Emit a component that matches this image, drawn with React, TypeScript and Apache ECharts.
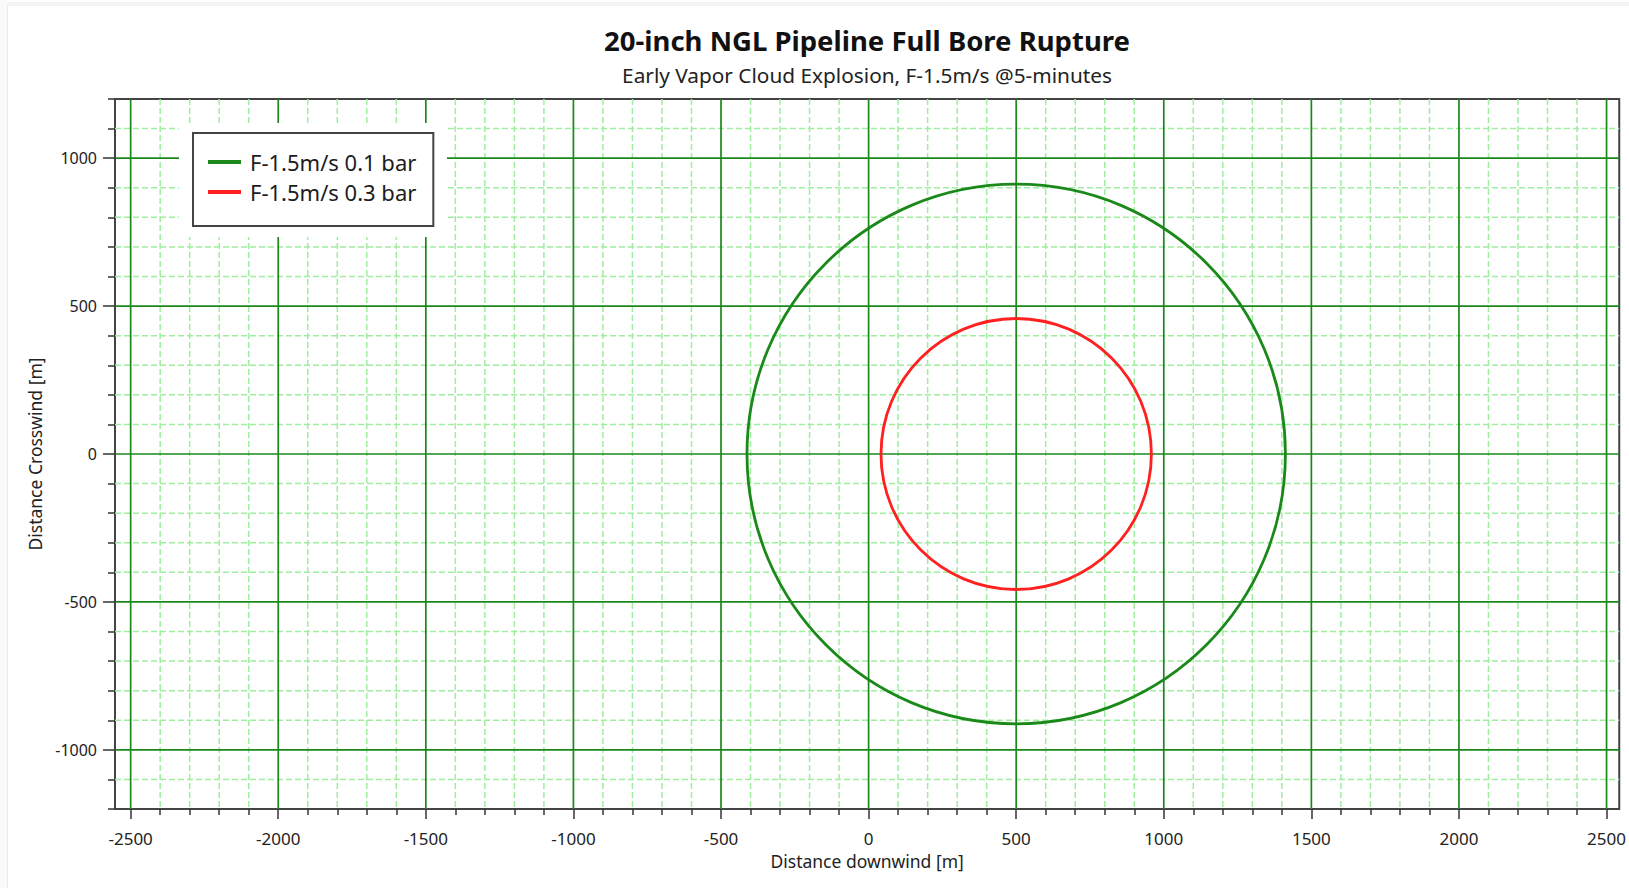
import React, { useEffect, useRef } from "react";
import * as echarts from "echarts";

// ---- axis extents & ticks ----
const xRange = [-2553, 2543];
const yRange = [-1200, 1200];
const majorX = [-2500, -2000, -1500, -1000, -500, 0, 500, 1000, 1500, 2000, 2500];
const minorX = [
  -2400, -2300, -2200, -2100, -1900, -1800, -1700, -1600, -1400, -1300, -1200, -1100,
  -900, -800, -700, -600, -400, -300, -200, -100, 100, 200, 300, 400,
  600, 700, 800, 900, 1100, 1200, 1300, 1400, 1600, 1700, 1800, 1900,
  2100, 2200, 2300, 2400,
];
const majorY = [-1000, -500, 0, 500, 1000];
const minorY = [-1100, -900, -800, -700, -600, -400, -300, -200, -100, 100, 200, 300, 400, 600, 700, 800, 900, 1100];
const edgeY = [-1200, 1200];

// ---- contour series ----
const seriesNames = ["F-1.5m/s 0.1 bar", "F-1.5m/s 0.3 bar"];
const centerX = [500, 500];
const centerY = [0, 0];
const radius = [912, 458];

// ---- texts ----
const titleText = "20-inch NGL Pipeline Full Bore Rupture";
const subtitleText = "Early Vapor Cloud Explosion, F-1.5m/s @5-minutes";
const xName = "Distance downwind [m]";
const yName = "Distance Crosswind [m]";

// ---- styles ----
const FONT = "'Noto Sans', 'Open Sans', sans-serif";
const seriesColors = ["#1a891a", "#ff2020"];
const MAJOR_GRID = "#1a881a";
const MINOR_GRID = "#9fee9f";
const TICK = "#333";
const LABEL = "#222";

export default function App() {
  const ref = useRef<HTMLDivElement>(null);

  useEffect(() => {
    if (!ref.current) return;
    const chart = echarts.init(ref.current, undefined, { renderer: "svg" });

    const vLine = (color: string, width: number, dash: number[] | null) => (params: any, api: any) => {
      const cs = params.coordSys;
      const x = api.coord([api.value(0), 0])[0];
      return {
        type: "line",
        shape: { x1: x, y1: cs.y, x2: x, y2: cs.y + cs.height },
        style: { stroke: color, lineWidth: width, lineDash: dash || undefined, fill: null },
      };
    };
    const hLine = (color: string, width: number, dash: number[] | null) => (params: any, api: any) => {
      const cs = params.coordSys;
      const y = api.coord([0, api.value(1)])[1];
      return {
        type: "line",
        shape: { x1: cs.x, y1: y, x2: cs.x + cs.width, y2: y },
        style: { stroke: color, lineWidth: width, lineDash: dash || undefined, fill: null },
      };
    };

    const circleItem = (idx: number) => (params: any, api: any) => {
      const c = api.coord([api.value(0), api.value(1)]);
      const s = api.size([api.value(2), api.value(2)]);
      return {
        type: "ellipse",
        shape: { cx: c[0], cy: c[1], rx: s[0], ry: s[1] },
        style: { fill: null, stroke: seriesColors[idx], lineWidth: 2.8 },
      };
    };

    const plain = (v: number) => String(v);

    const baseX = {
      type: "value",
      min: xRange[0],
      max: xRange[1],
      position: "bottom",
      axisLine: { show: false, onZero: false },
      splitLine: { show: false },
    };
    const baseY = {
      type: "value",
      min: yRange[0],
      max: yRange[1],
      position: "left",
      axisLine: { show: false, onZero: false },
      splitLine: { show: false },
    };

    const option: any = {
      animation: false,
      color: seriesColors,
      graphic: [
        { type: "rect", shape: { x: 7, y: 2, width: 1622, height: 4 }, style: { fill: "#f3f3f3" }, z: 0, silent: true },
        { type: "rect", shape: { x: 0, y: 0, width: 7, height: 888 }, style: { fill: "#fafafa" }, z: 0, silent: true },
        { type: "line", shape: { x1: 7.5, y1: 6, x2: 7.5, y2: 888 }, style: { stroke: "#ececec", lineWidth: 1 }, z: 0, silent: true },
        {
          type: "text",
          x: 867,
          y: 40,
          style: { text: titleText, font: `bold 27.5px ${FONT}`, fill: "#111", textAlign: "center", textVerticalAlign: "middle" },
          z: 10,
        },
        {
          type: "text",
          x: 867,
          y: 75,
          style: { text: subtitleText, font: `20.8px ${FONT}`, fill: "#222", textAlign: "center", textVerticalAlign: "middle" },
          z: 10,
        },
        { type: "rect", shape: { x: 179, y: 123, width: 268, height: 114 }, style: { fill: "#ffffff" }, z: 3, silent: true },
      ],
      grid: {
        left: 115,
        top: 99,
        width: 1506,
        height: 710,
        show: true,
        backgroundColor: "#ffffff",
        borderColor: "#444",
        borderWidth: 2,
      },
      legend: {
        orient: "vertical",
        left: 193,
        top: 133,
        padding: [18, 17, 23, 15],
        itemGap: 8,
        itemWidth: 33,
        itemHeight: 4,
        icon: "rect",
        backgroundColor: "#ffffff",
        borderColor: "#444",
        borderWidth: 2,
        z: 5,
        selectedMode: false,
        textStyle: { fontSize: 22, color: "#1c1c1c", fontFamily: FONT, padding: [0, 0, 0, 4] },
        data: seriesNames.map((n, i) => ({ name: n, icon: "rect", itemStyle: { color: seriesColors[i], borderWidth: 0 } })),
      },
      xAxis: [
        {
          ...baseX,
          name: xName,
          nameLocation: "middle",
          nameGap: 43,
          nameTextStyle: { fontSize: 17.5, color: LABEL, fontFamily: FONT },
          axisTick: { show: true, length: 10, customValues: majorX, lineStyle: { color: TICK, width: 1.5 } },
          axisLabel: { show: true, margin: 21, customValues: majorX, formatter: plain, fontSize: 17, color: LABEL, fontFamily: FONT },
        },
        {
          ...baseX,
          axisTick: { show: true, length: 6, customValues: minorX, lineStyle: { color: TICK, width: 1.5 } },
          axisLabel: { show: false },
        },
      ],
      yAxis: [
        {
          ...baseY,
          name: yName,
          nameLocation: "middle",
          nameGap: 45,
          nameTextStyle: { fontSize: 17.5, color: LABEL, fontFamily: FONT },
          axisTick: { show: true, length: 12, customValues: majorY, lineStyle: { color: TICK, width: 1.5 } },
          axisLabel: { show: true, margin: 18, customValues: majorY, formatter: plain, fontSize: 16, color: LABEL, fontFamily: FONT },
        },
        {
          ...baseY,
          axisTick: { show: true, length: 7, customValues: [...minorY, ...edgeY], lineStyle: { color: TICK, width: 1.5 } },
          axisLabel: { show: false },
        },
      ],
      series: [
        {
          type: "custom",
          name: "minorV",
          silent: true,
          z: 1,
          clip: false,
          renderItem: vLine(MINOR_GRID, 1.5, [6, 3]),
          data: minorX.map((v) => [v, 0]),
        },
        {
          type: "custom",
          name: "minorH",
          silent: true,
          z: 1,
          clip: false,
          renderItem: hLine(MINOR_GRID, 1.5, [6, 3]),
          data: minorY.map((v) => [0, v]),
        },
        {
          type: "custom",
          name: "majorV",
          silent: true,
          z: 1,
          clip: false,
          renderItem: vLine(MAJOR_GRID, 1.7, null),
          data: majorX.map((v) => [v, 0]),
        },
        {
          type: "custom",
          name: "majorH",
          silent: true,
          z: 1,
          clip: false,
          renderItem: hLine(MAJOR_GRID, 1.7, null),
          data: majorY.map((v) => [0, v]),
        },
        ...seriesNames.map((n, i) => ({
          type: "custom",
          name: n,
          z: 2,
          silent: true,
          itemStyle: { color: seriesColors[i] },
          renderItem: circleItem(i),
          data: [[centerX[i], centerY[i], radius[i]]],
        })),
      ],
    };

    chart.setOption(option);
    return () => chart.dispose();
  }, []);

  return (
    <div
      ref={ref}
      style={{ position: "fixed", left: 0, top: 0, width: 1629, height: 888, background: "#ffffff" }}
    />
  );
}
